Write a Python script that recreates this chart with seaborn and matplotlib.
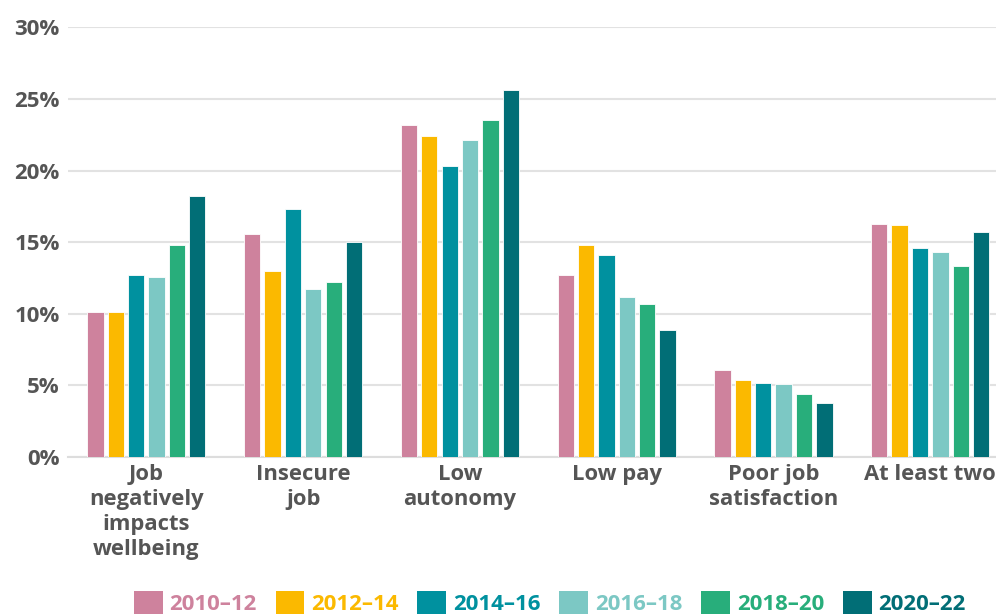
import matplotlib
matplotlib.use("Agg")
import matplotlib.pyplot as plt
import seaborn as sns
import pandas as pd
from matplotlib.patches import Patch
from matplotlib.ticker import FuncFormatter

categories = ["Job\nnegatively\nimpacts\nwellbeing", "Insecure\njob", "Low\nautonomy",
              "Low pay", "Poor job\nsatisfaction", "At least two"]
periods = ["2010\u201312", "2012\u201314", "2014\u201316", "2016\u201318", "2018\u201320", "2020\u201322"]
v_2010_12 = [10.1, 15.6, 23.2, 12.7, 6.1, 16.3]
v_2012_14 = [10.1, 13.0, 22.4, 14.8, 5.4, 16.2]
v_2014_16 = [12.7, 17.3, 20.3, 14.1, 5.2, 14.6]
v_2016_18 = [12.6, 11.7, 22.1, 11.2, 5.1, 14.3]
v_2018_20 = [14.8, 12.2, 23.5, 10.7, 4.4, 13.3]
v_2020_22 = [18.2, 15.0, 25.6, 8.9, 3.8, 15.7]
yticks = [0, 5, 10, 15, 20, 25, 30]
colors = ["#CE829D", "#FBB900", "#00919F", "#7CC8C4", "#28AE7B", "#016E76"]

series = [v_2010_12, v_2012_14, v_2014_16, v_2016_18, v_2018_20, v_2020_22]
rows = []
for p, vals in zip(periods, series):
    for c, v in zip(categories, vals):
        rows.append({"category": c, "period": p, "value": v})
df = pd.DataFrame(rows)

sns.set_theme(style="white")
plt.rcParams["font.family"] = ["Open Sans", "DejaVu Sans"]

fig = plt.figure(figsize=(9.96, 6.14), dpi=100)
ax = fig.add_axes([0.0683, 0.2557, 0.9317, 0.6999])

sns.barplot(data=df, x="category", y="value", hue="period", order=categories,
            hue_order=periods, palette=colors, saturation=1, width=0.78, gap=0.2,
            edgecolor="white", linewidth=0.6, legend=False, ax=ax, zorder=3)

ax.set_ylim(0, 30)
ax.set_xlim(-0.5, 5.42)
ax.set_yticks(yticks)
ax.yaxis.set_major_formatter(FuncFormatter(lambda v, _: f"{int(v)}%"))
ax.grid(axis="y", color="#e2e2e2", linewidth=1.5, zorder=0)
ax.set_axisbelow(True)
for s in ["top", "right", "left"]:
    ax.spines[s].set_visible(False)
ax.spines["bottom"].set_color("#dddddd")
ax.spines["bottom"].set_linewidth(1.5)
ax.set_xlabel("")
ax.set_ylabel("")
ax.tick_params(axis="y", length=0, pad=6, labelsize=16, labelcolor="#555555")
ax.tick_params(axis="x", length=0, pad=5, labelsize=15.8, labelcolor="#555555")
for t in ax.get_yticklabels():
    t.set_fontweight("bold")
for t in ax.get_xticklabels():
    t.set_fontweight("bold")
    t.set_linespacing(1.26)
    t.set_verticalalignment("top")

handles = [Patch(facecolor=c, edgecolor="none") for c in colors]
leg = fig.legend(handles, periods, loc="lower center", ncol=6, frameon=False,
                 bbox_to_anchor=(0.552, -0.035), handlelength=1.3, handleheight=1.3,
                 handletextpad=0.3, columnspacing=0.85,
                 prop={"size": 16, "weight": "bold"})
for txt, c in zip(leg.get_texts(), colors):
    txt.set_color(c)

fig.savefig("out.png", dpi=100)
